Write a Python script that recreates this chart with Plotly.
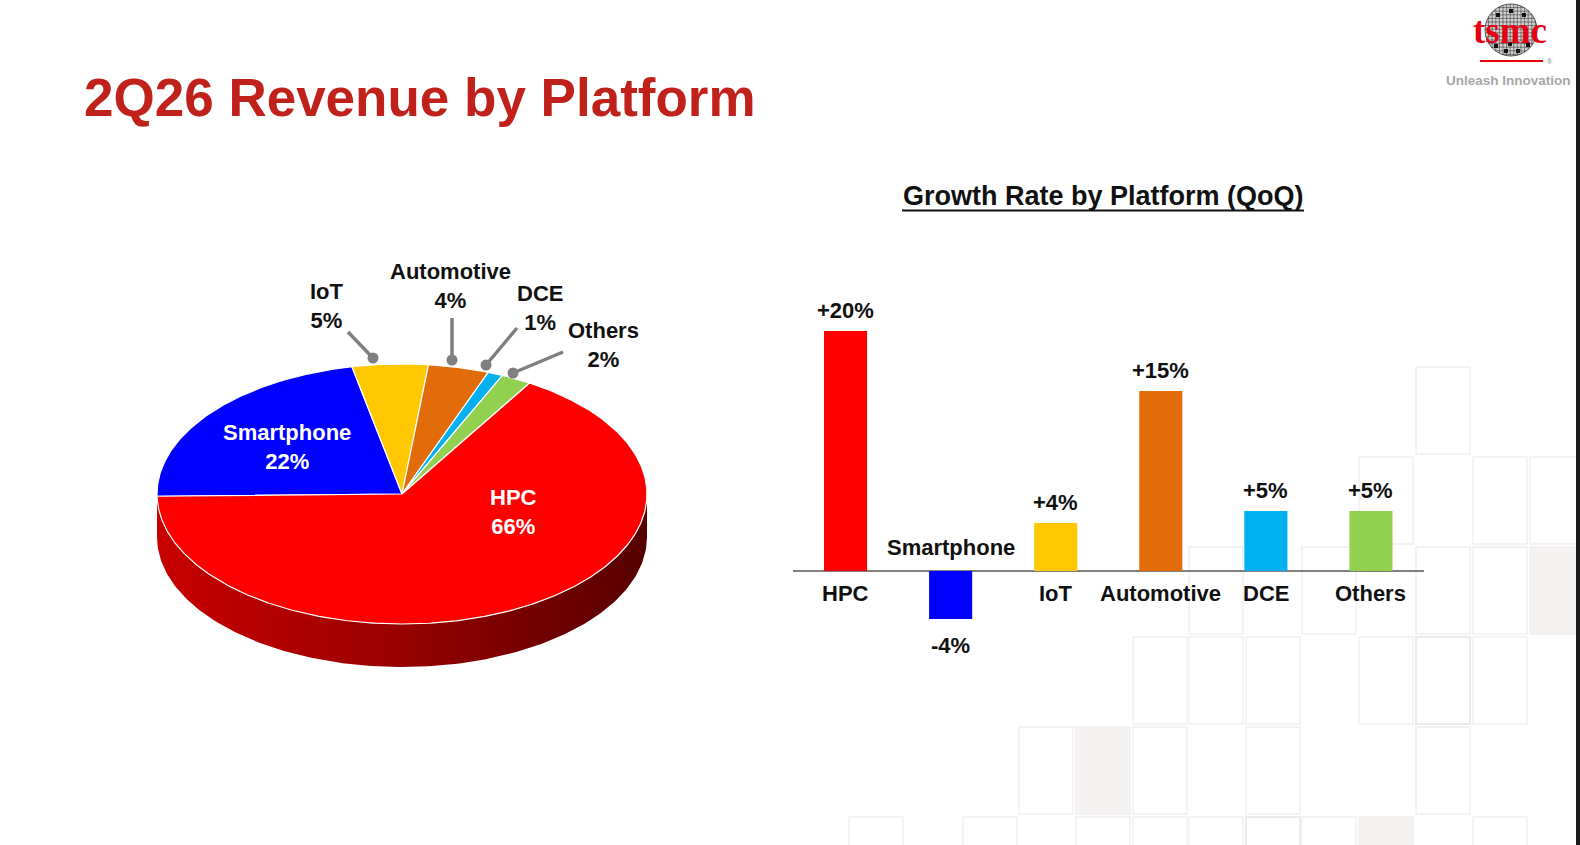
import numpy as np
import plotly.graph_objects as go

W, H = 1580, 845

# ---------------- data ----------------
platforms = ["HPC", "Smartphone", "IoT", "Automotive", "DCE", "Others"]
revenue_share = [66, 22, 5, 4, 1, 2]          # % of 2Q26 revenue
growth_qoq = [20, -4, 4, 15, 5, 5]            # QoQ growth, %
growth_labels = ["+20%", "-4%", "+4%", "+15%", "+5%", "+5%"]

# ---------------- styles ----------------
colors = ["#FF0000", "#0000FF", "#FFC800", "#E36C0A", "#00B0F0", "#92D050"]
TXT = "#111111"
FONT = "Liberation Sans, Arial, sans-serif"

fig = go.Figure()
shapes = []
annotations = []

# ---------------- background decorative tiles ----------------
tile_w, tile_h = 54, 87
tiles = [
    (1416, 367, 0), (1359, 457, 0), (1473, 457, 0), (1530, 457, 0),
    (1189, 547, 0), (1302, 547, 0), (1416, 547, 0), (1473, 547, 0), (1530, 547, 1),
    (1133, 637, 0), (1189, 637, 0), (1246, 637, 0), (1359, 637, 0), (1416, 637, 2), (1473, 637, 0),
    (1019, 727, 0), (1076, 727, 1), (1133, 727, 0), (1246, 727, 0), (1416, 727, 0),
    (849, 817, 0), (963, 817, 0), (1076, 817, 0), (1133, 817, 0), (1189, 817, 0),
    (1246, 817, 2), (1302, 817, 0), (1359, 817, 1), (1473, 817, 0),
]
for tx, ty, kind in tiles:
    shapes.append(dict(type="rect", xref="x", yref="y", x0=tx, x1=tx + tile_w, y0=ty, y1=ty + tile_h,
                       line=dict(color="#E8E3E1" if kind == 2 else "#F2EFEE", width=1.4),
                       fillcolor="#F5F3F2" if kind == 1 else "rgba(0,0,0,0)", layer="below"))

# right-edge dark strip of the slide
shapes.append(dict(type="rect", xref="x", yref="y", x0=1576, x1=1581, y0=-1, y1=H + 1,
                   line=dict(width=0), fillcolor="#1A1A1A", layer="above"))

# ---------------- 3D-look pie (ellipse) ----------------
cx, cy, a, b, depth = 402, 494, 245, 130, 43
start = 181.0
total = float(sum(revenue_share))

# side wall (front half)
th = np.radians(np.linspace(180, 360, 181))
sx = cx + a * np.cos(th)
sy = cy - b * np.sin(th)
side_x = np.concatenate([sx, sx[::-1]])
side_y = np.concatenate([sy, (sy + depth)[::-1]])
fig.add_trace(go.Scatter(
    x=side_x, y=side_y, mode="lines", fill="toself", line=dict(width=0, color="#800000"),
    fillcolor="#990000",
    fillgradient=dict(type="horizontal",
                      colorscale=[[0, "#C80000"], [0.45, "#9E0000"], [1, "#560000"]]),
    hoverinfo="skip", xaxis="x", yaxis="y"))

pie_order = platforms[1:] + platforms[:1]
ang = start
for name in pie_order:
    i = platforms.index(name)
    sweep = revenue_share[i] / total * 360.0
    t = np.radians(np.linspace(ang, ang - sweep, max(3, int(sweep * 2))))
    xs = np.concatenate([[cx], cx + a * np.cos(t), [cx]])
    ys = np.concatenate([[cy], cy - b * np.sin(t), [cy]])
    fig.add_trace(go.Scatter(x=xs, y=ys, mode="lines", fill="toself",
                             fillcolor=colors[i], line=dict(color="white", width=1.2),
                             hoverinfo="skip", xaxis="x", yaxis="y"))
    ang -= sweep

# inside labels
inside_pos = {"Smartphone": (287, 447), "HPC": (513, 512)}
for name, (px, py) in inside_pos.items():
    i = platforms.index(name)
    annotations.append(dict(xref="x", yref="y", x=px, y=py, showarrow=False,
                            text=f"{name}<br>{revenue_share[i]}%",
                            font=dict(family=FONT, size=22, color="white", weight="bold"),
                            xanchor="center", yanchor="middle"))

# outside labels with leader lines
outside = {
    "IoT": ((327, 306), (348, 332), (373, 358)),
    "Automotive": ((450, 286), (452, 318), (452, 360)),
    "DCE": ((540, 308), (517, 328), (486, 365)),
    "Others": ((603, 345), (563, 352), (513, 373)),
}
for name, ((px, py), (x0, y0), (x1, y1)) in outside.items():
    i = platforms.index(name)
    annotations.append(dict(xref="x", yref="y", x=px, y=py, showarrow=False,
                            text=f"{name}<br>{revenue_share[i]}%",
                            font=dict(family=FONT, size=22, color=TXT, weight="bold"),
                            xanchor="center", yanchor="middle"))
    shapes.append(dict(type="line", xref="x", yref="y", x0=x0, y0=y0, x1=x1, y1=y1,
                       line=dict(color="#7F7F7F", width=3.5)))
    shapes.append(dict(type="circle", xref="x", yref="y", x0=x1 - 5.5, x1=x1 + 5.5,
                       y0=y1 - 5.5, y1=y1 + 5.5, line=dict(width=0), fillcolor="#7F7F7F"))

# ---------------- bar chart ----------------
fig.add_trace(go.Bar(x=platforms, y=growth_qoq, marker=dict(color=colors, line=dict(width=0)),
                     width=0.41, hoverinfo="skip", xaxis="x2", yaxis="y2", cliponaxis=False))

for i, name in enumerate(platforms):
    v = growth_qoq[i]
    annotations.append(dict(xref="x2", yref="y2", x=name, y=v, showarrow=False,
                            text=growth_labels[i], yshift=21 if v >= 0 else -26,
                            font=dict(family=FONT, size=22, color=TXT, weight="bold"),
                            xanchor="center", yanchor="middle"))
    annotations.append(dict(xref="x2", yref="y2", x=name, y=0, showarrow=False,
                            text=name, yshift=-22 if v >= 0 else 24,
                            font=dict(family=FONT, size=22, color=TXT, weight="bold"),
                            xanchor="center", yanchor="middle"))

# ---------------- titles ----------------
annotations.append(dict(xref="x", yref="y", x=82, y=97, showarrow=False,
                        text="2Q26 Revenue by Platform",
                        font=dict(family=FONT, size=53, color="#C0211A", weight="bold"),
                        xanchor="left", yanchor="middle"))
annotations.append(dict(xref="x", yref="y", x=1103, y=196, showarrow=False,
                        text="Growth Rate by Platform (QoQ)",
                        font=dict(family=FONT, size=27, color=TXT, weight="bold"),
                        xanchor="center", yanchor="middle"))
shapes.append(dict(type="line", xref="x", yref="y", x0=902, x1=1304, y0=210.5, y1=210.5,
                   line=dict(color=TXT, width=2)))

# ---------------- logo ----------------
lcx, lcy, lr = 1511, 30, 26
shapes.append(dict(type="circle", xref="x", yref="y", x0=lcx - lr, x1=lcx + lr,
                   y0=lcy - lr, y1=lcy + lr, fillcolor="#D2D2D2",
                   line=dict(color="#555555", width=1)))
step = 3.6
k = -lr + step
while k < lr:
    h = np.sqrt(lr * lr - k * k)
    shapes.append(dict(type="line", xref="x", yref="y", x0=lcx - h, x1=lcx + h,
                       y0=lcy + k, y1=lcy + k, line=dict(color="#3A3A3A", width=0.6)))
    shapes.append(dict(type="line", xref="x", yref="y", x0=lcx + k, x1=lcx + k,
                       y0=lcy - h, y1=lcy + h, line=dict(color="#3A3A3A", width=0.6)))
    k += step
for dx, dy in [(-15, -17), (-2, -21), (11, -17), (-17, 14), (-7, 19), (5, 19), (15, 13), (-3, 12)]:
    shapes.append(dict(type="rect", xref="x", yref="y", x0=lcx + dx, x1=lcx + dx + 4,
                       y0=lcy + dy, y1=lcy + dy + 4, fillcolor="#111111", line=dict(width=0)))
annotations.append(dict(xref="x", yref="y", x=1510, y=30, showarrow=False, text="tsmc",
                        font=dict(family="Liberation Serif, Times New Roman, serif", size=37,
                                  color="#E60012", weight="bold"),
                        xanchor="center", yanchor="middle"))
shapes.append(dict(type="line", xref="x", yref="y", x0=1480, x1=1543, y0=61, y1=61,
                   line=dict(color="#E60012", width=2)))
annotations.append(dict(xref="x", yref="y", x=1550, y=61, showarrow=False, text="®",
                        font=dict(family=FONT, size=7, color="#888888"),
                        xanchor="center", yanchor="middle"))
annotations.append(dict(xref="x", yref="y", x=1508, y=80, showarrow=False,
                        text="Unleash Innovation",
                        font=dict(family=FONT, size=13.5, color="#A6A6A6", weight="bold"),
                        xanchor="center", yanchor="middle"))

# ---------------- layout ----------------
fig.update_layout(
    width=W, height=H, margin=dict(l=0, r=0, t=0, b=0),
    paper_bgcolor="white", plot_bgcolor="rgba(0,0,0,0)", showlegend=False,
    xaxis=dict(domain=[0, 1], range=[0, W], visible=False, fixedrange=True),
    yaxis=dict(domain=[0, 1], range=[H, 0], visible=False, fixedrange=True),
    xaxis2=dict(domain=[793 / W, 1423.5 / W], range=[-0.5, 5.5], anchor="y2",
                showticklabels=False, showgrid=False, zeroline=False, showline=False, ticks=""),
    yaxis2=dict(domain=[1 - 643 / H, 1 - 283 / H], range=[-6, 24], anchor="x2",
                showticklabels=False, showgrid=False, zeroline=True,
                zerolinecolor="#7F7F7F", zerolinewidth=2, showline=False, ticks=""),
    shapes=shapes, annotations=annotations,
)

fig.write_html("out.html", config={"displayModeBar": False, "staticPlot": True},
               post_script="document.body.style.margin='0';document.body.style.overflow='hidden';")
